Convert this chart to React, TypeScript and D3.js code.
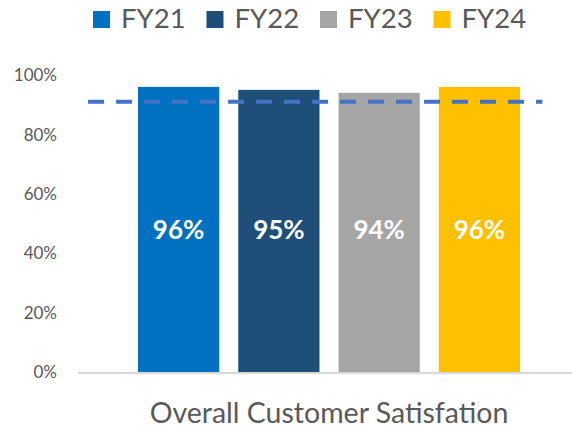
import React from "react";
import { scaleBand, scaleLinear, format } from "d3";

const series = ["FY21", "FY22", "FY23", "FY24"];
const values = [0.96, 0.95, 0.94, 0.96];
const colors = ["#0070C0", "#1F4E79", "#A5A5A5", "#FFC000"];
const category = "Overall Customer Satisfation";
const target = 0.91;
const yTicks = [0, 0.2, 0.4, 0.6, 0.8, 1];

const W = 572;
const H = 429;
const FONT = "Lato, 'Open Sans', sans-serif";
const TEXT = "#595959";

const App = () => {
  const margin = { top: 75, right: -8, bottom: 57, left: 78 };
  const plotRight = W - margin.right;
  const plotBottom = H - margin.bottom;

  const y = scaleLinear().domain([0, 1]).range([plotBottom, margin.top]);

  // one category, four series clustered inside it
  const xCat = scaleBand<string>()
    .domain([category])
    .range([margin.left, plotRight])
    .paddingInner(0)
    .paddingOuter(0.157);

  const groupStart = xCat(category) ?? 0;
  const xSeries = scaleBand<string>()
    .domain(series)
    .range([groupStart, groupStart + xCat.bandwidth()])
    .paddingInner(0.19);

  const pct = format(".0%");
  const plotWidth = plotRight - margin.left;
  const lineX1 = margin.left + plotWidth * 0.02;
  const lineX2 = margin.left + plotWidth * 0.925;

  const legendStep = 113.5;
  const legendX0 = 93;

  return (
    <svg
      width={W}
      height={H}
      style={{ position: "absolute", left: 0, top: 0, background: "#fff" }}
      fontFamily={FONT}
    >
      {/* legend */}
      {series.map((s, i) => (
        <g key={s} transform={`translate(${legendX0 + i * legendStep},0)`}>
          <rect x={0} y={11} width={17} height={17} fill={colors[i]} />
          <text x={28} y={28} fontSize={27.5} fill={TEXT}>
            {s}
          </text>
        </g>
      ))}

      {/* y axis labels */}
      {yTicks.map((t) => (
        <text
          key={t}
          x={57}
          y={y(t)}
          dy="0.36em"
          textAnchor="end"
          fontSize={17}
          fill={TEXT}
        >
          {pct(t)}
        </text>
      ))}

      {/* bars */}
      {series.map((s, i) => (
        <rect
          key={s}
          x={xSeries(s)}
          y={y(values[i])}
          width={xSeries.bandwidth()}
          height={plotBottom - y(values[i])}
          fill={colors[i]}
        />
      ))}

      {/* baseline */}
      <line
        x1={margin.left}
        x2={plotRight}
        y1={plotBottom + 1}
        y2={plotBottom + 1}
        stroke="#D9D9D9"
        strokeWidth={2}
      />

      {/* target line */}
      <line
        x1={lineX1}
        x2={lineX2}
        y1={y(target)}
        y2={y(target)}
        stroke="#4472C4"
        strokeWidth={4}
        strokeDasharray="16 12"
      />

      {/* data labels */}
      {series.map((s, i) => (
        <text
          key={s}
          x={(xSeries(s) ?? 0) + xSeries.bandwidth() / 2}
          y={239}
          textAnchor="middle"
          fontSize={26}
          fontWeight="bold"
          fill="#fff"
        >
          {pct(values[i])}
        </text>
      ))}

      {/* category label */}
      <text
        x={groupStart + xCat.bandwidth() / 2}
        y={423}
        textAnchor="middle"
        fontSize={28.5}
        fill={TEXT}
      >
        {category}
      </text>
    </svg>
  );
};

export default App;
